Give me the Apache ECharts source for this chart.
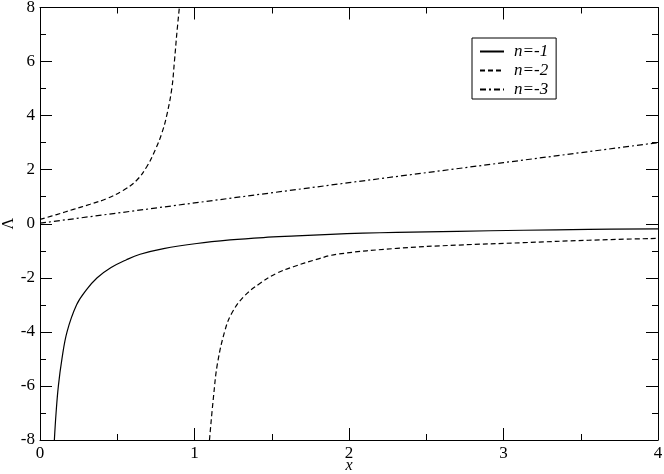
<!DOCTYPE html>
<html>
<head>
<meta charset="utf-8">
<script src="https://cdn.jsdelivr.net/npm/echarts@6/dist/echarts.min.js"></script>
<style>
html,body{margin:0;padding:0;background:#fff;}
#c{width:664px;height:474px;}
</style>
</head>
<body>
<div id="c"></div>
<script>
// n=-1 (solid)
var n1X = [0.093, 0.104, 0.119, 0.142, 0.175, 0.237, 0.30, 0.37, 0.46, 0.56, 0.648, 0.80, 1.015, 1.23, 1.446, 1.66, 1.88, 2.09, 2.31, 2.70, 3.13, 3.55, 4.0];
var n1Y = [-8, -7, -6, -5, -4, -3, -2.45, -2.0, -1.62, -1.33, -1.13, -0.92, -0.73, -0.60, -0.51, -0.45, -0.39, -0.35, -0.32, -0.28, -0.24, -0.21, -0.19];
// n=-2 (dashed), left branch
var n2LX = [0, 0.108, 0.216, 0.324, 0.432, 0.54, 0.626, 0.691, 0.745, 0.788, 0.82, 0.853, 0.87, 0.885, 0.902];
var n2LY = [0.16, 0.34, 0.53, 0.72, 0.93, 1.24, 1.61, 2.11, 2.72, 3.34, 4.0, 5.0, 6.0, 7.0, 8.0];
// n=-2 (dashed), right branch
var n2RX = [1.097, 1.123, 1.149, 1.198, 1.241, 1.318, 1.425, 1.533, 1.64, 1.79, 1.92, 2.31, 2.70, 3.13, 3.55, 4.0];
var n2RY = [-8, -6.4, -5.16, -3.93, -3.31, -2.70, -2.20, -1.83, -1.59, -1.32, -1.13, -0.91, -0.79, -0.70, -0.61, -0.54];
// n=-3 (dash-dot)
var n3X = [0, 1, 2, 3, 4];
var n3Y = [0.02, 0.77, 1.52, 2.26, 3.0];

var seriesNames = ['n=-1', 'n=-2', 'n=-3'];
var xTitle = 'x';
var yTitle = 'Λ';
var xTickValues = [0, 1, 2, 3, 4];
var xTickLabels = ['0', '1', '2', '3', '4'];
var yTickValues = [-8, -6, -4, -2, 0, 2, 4, 6, 8];
var yTickLabels = ['-8', '-6', '-4', '-2', '0', '2', '4', '6', '8'];
var xTicks = {min: 0, max: 4, step: 1};
var yTicks = {min: -8, max: 8, step: 2};

function pairs(xs, ys) { return xs.map(function (x, i) { return [x, ys[i]]; }); }

var FONT_CSS = '17px "Liberation Serif"';
var black = '#000';
var gridBox = {left: 40, right: 6, top: 7.5, bottom: 34, outerBoundsMode: 'none'};

function tickX(pos) {
  return {
    gridIndex: 1, type: 'value', position: pos, min: xTicks.min, max: xTicks.max, interval: xTicks.step,
    axisLine: {show: true, onZero: false, lineStyle: {color: black, width: 1}},
    axisTick: {show: true, inside: true, length: 12, lineStyle: {color: black}},
    minorTick: {show: true, splitNumber: 2, length: 6, lineStyle: {color: black}},
    splitLine: {show: false},
    axisLabel: {show: false}
  };
}
function tickY(pos) {
  return {
    gridIndex: 1, type: 'value', position: pos, min: yTicks.min, max: yTicks.max, interval: yTicks.step,
    axisLine: {show: true, onZero: false, lineStyle: {color: black, width: 1}},
    axisTick: {show: true, inside: true, length: 12, lineStyle: {color: black}},
    minorTick: {show: true, splitNumber: 2, length: 6, lineStyle: {color: black}},
    splitLine: {show: false},
    axisLabel: {show: false}
  };
}

var chart = echarts.init(document.getElementById('c'));
chart.setOption({
  animation: false,
  grid: [Object.assign({}, gridBox), Object.assign({}, gridBox)],
  xAxis: [
    {type: 'value', min: xTicks.min, max: xTicks.max, interval: xTicks.step,
     axisLine: {show: false}, axisTick: {show: false}, splitLine: {show: false},
     axisLabel: {show: false}},
    tickX('bottom'), tickX('top')
  ],
  yAxis: [
    {type: 'value', min: yTicks.min, max: yTicks.max, interval: yTicks.step,
     axisLine: {show: false}, axisTick: {show: false}, splitLine: {show: false},
     axisLabel: {show: false}},
    tickY('left'), tickY('right')
  ],
  legend: {
    orient: 'vertical', left: 472, top: 38,
    data: seriesNames,
    itemWidth: 24, itemHeight: 12, itemGap: 2,
    padding: [5, 8, 1, 7],
    borderColor: black, borderWidth: 1, borderRadius: 0,
    backgroundColor: '#fff',
    itemStyle: {opacity: 0},
    textStyle: {color: black, fontFamily: 'Liberation Serif', fontSize: 17, fontStyle: 'italic', padding: [0, 0, 0, 5]}
  },
  series: [
    {name: seriesNames[0], type: 'line', xAxisIndex: 0, yAxisIndex: 0, data: pairs(n1X, n1Y),
     showSymbol: false, symbol: 'none', smooth: 0.4,
     lineStyle: {color: black, width: 1.2, type: 'solid'}, itemStyle: {color: black}},
    {name: seriesNames[1], type: 'line', xAxisIndex: 0, yAxisIndex: 0, data: pairs(n2LX, n2LY),
     showSymbol: false, symbol: 'none', smooth: 0.4,
     lineStyle: {color: black, width: 1.2, type: [5, 3]}, itemStyle: {color: black}},
    {name: seriesNames[1], type: 'line', xAxisIndex: 0, yAxisIndex: 0, data: pairs(n2RX, n2RY),
     showSymbol: false, symbol: 'none', smooth: 0.4,
     lineStyle: {color: black, width: 1.2, type: [5, 3]}, itemStyle: {color: black}},
    {name: seriesNames[2], type: 'line', xAxisIndex: 0, yAxisIndex: 0, data: pairs(n3X, n3Y),
     showSymbol: false, symbol: 'none',
     lineStyle: {color: black, width: 1.2, type: [6, 3, 2, 3]}, itemStyle: {color: black}}
  ]
});

// tick labels and axis titles placed through the axes' own scales
var gfx = [];
var bottomPx = chart.convertToPixel({gridIndex: 0}, [xTicks.min, yTicks.min]);
xTickValues.forEach(function (v, i) {
  var p = chart.convertToPixel({gridIndex: 0}, [v, yTicks.min]);
  gfx.push({type: 'text', x: p[0], y: p[1] + 14, silent: true,
    style: {text: xTickLabels[i], font: FONT_CSS, fill: black, align: 'center', verticalAlign: 'middle'}});
});
yTickValues.forEach(function (v, i) {
  var p = chart.convertToPixel({gridIndex: 0}, [xTicks.min, v]);
  gfx.push({type: 'text', x: p[0] - 5, y: p[1], silent: true,
    style: {text: yTickLabels[i], font: FONT_CSS, fill: black, align: 'right', verticalAlign: 'middle'}});
});
var midX = chart.convertToPixel({gridIndex: 0}, [(xTicks.min + xTicks.max) / 2, yTicks.min]);
var midY = chart.convertToPixel({gridIndex: 0}, [xTicks.min, (yTicks.min + yTicks.max) / 2]);
gfx.push({type: 'text', x: midX[0], y: bottomPx[1] + 26, silent: true,
  style: {text: xTitle, font: 'italic 16px "Liberation Serif"', fill: black, align: 'center', verticalAlign: 'middle'}});
gfx.push({type: 'text', x: 9, y: midY[1], rotation: Math.PI / 2, silent: true,
  style: {text: yTitle, font: '16px "Liberation Serif"', fill: black, align: 'center', verticalAlign: 'middle'}});
chart.setOption({graphic: gfx});
</script>
</body>
</html>
